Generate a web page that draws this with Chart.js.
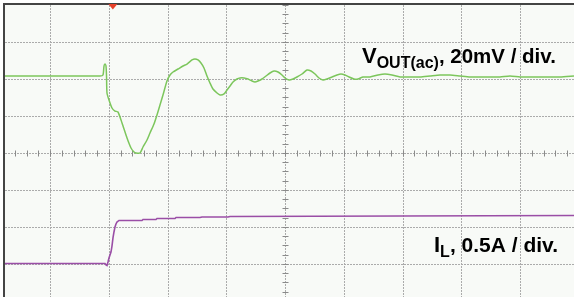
<!DOCTYPE html>
<html><head><meta charset="utf-8">
<script src="https://cdn.jsdelivr.net/npm/chart.js@4"></script>
<style>html,body{margin:0;padding:0;background:#fff;}canvas{display:block;}</style>
</head><body>
<canvas id="c" width="574" height="297"></canvas>
<script>
// Oscilloscope screen, coordinates in divisions (center of screen = 0,0)
const xMajor = [-4,-3,-2,-1,0,1,2,3,4];
const yMajor = [-3,-2,-1,0,1,2,3];
const triggerX = -2.93;

// VOUT(ac) trace, 20mV/div : time (div), level (div)
const voutT = [-4.783,-3.149,-3.098,-3.081,-3.064,-3.047,-3.038,-3.030,-2.996,-2.945,-2.894,-2.843,-2.774,-2.689,-2.621,-2.570,-2.536,-2.468,-2.417,-2.349,-2.298,-2.230,-2.179,-2.128,-2.077,-2.009,-1.957,-1.906,-1.821,-1.736,-1.668,-1.583,-1.532,-1.481,-1.430,-1.379,-1.328,-1.277,-1.226,-1.157,-1.106,-1.038,-0.987,-0.936,-0.885,-0.817,-0.766,-0.698,-0.630,-0.562,-0.511,-0.460,-0.391,-0.323,-0.255,-0.187,-0.119,-0.051,0,0.068,0.136,0.204,0.289,0.374,0.443,0.511,0.579,0.647,0.715,0.800,0.885,0.953,1.021,1.089,1.174,1.243,1.328,1.447,1.583,1.702,1.821,1.957,2.128,2.298,2.468,2.638,2.809,2.979,3.149,3.319,3.489,3.660,3.830,4.000,4.170,4.340,4.511,4.681,4.919];
const voutV = [2.081,2.081,2.108,2.351,2.405,2.351,2.081,1.622,1.432,1.216,1.135,1.108,0.811,0.405,0.135,0.027,0,0,0.162,0.351,0.541,0.784,1.027,1.297,1.568,1.946,2.108,2.189,2.270,2.351,2.405,2.514,2.541,2.514,2.432,2.297,2.081,1.892,1.730,1.622,1.568,1.595,1.703,1.811,1.919,2.000,2.027,2.027,2.000,1.946,1.919,1.946,2.000,2.081,2.162,2.216,2.189,2.108,2.027,1.973,2.000,2.054,2.135,2.243,2.216,2.135,2.027,1.973,2.000,2.054,2.108,2.135,2.108,2.054,2.000,2.000,2.054,2.054,2.108,2.135,2.108,2.054,2.054,2.054,2.081,2.108,2.108,2.081,2.054,2.054,2.054,2.054,2.081,2.054,2.054,2.054,2.054,2.054,2.081];

// IL trace, 0.5A/div : time (div), level (div)
const ilT = [-4.783,-3.064,-3.047,-3.030,-3.013,-2.996,-2.962,-2.945,-2.928,-2.911,-2.894,-2.877,-2.860,-2.826,-2.434,-2.417,-2.196,-2.179,-1.872,-1.855,-1.447,-1.413,-0.970,-0.936,1.957,4.919];
const ilV = [-2.986,-2.986,-3.027,-3.041,-2.946,-2.838,-2.676,-2.514,-2.297,-2.135,-2.000,-1.919,-1.865,-1.824,-1.824,-1.797,-1.797,-1.770,-1.770,-1.743,-1.743,-1.730,-1.730,-1.716,-1.703,-1.689];

const toXY = (t, v) => t.map((x, i) => ({x, y: v[i]}));

const scopePlugin = {
  id: 'scope',
  beforeDatasetsDraw(chart) {
    const {ctx, chartArea: a, scales: {x, y}} = chart;
    ctx.save();
    ctx.fillStyle = '#f8faf7';
    ctx.fillRect(a.left, a.top, a.right - a.left, a.bottom - a.top);
    ctx.strokeStyle = '#ababab';
    ctx.lineWidth = 1;
    ctx.setLineDash([2, 1]);
    xMajor.forEach(v => {
      const px = Math.round(x.getPixelForValue(v)) + 0.5;
      ctx.beginPath(); ctx.moveTo(px, a.top); ctx.lineTo(px, a.bottom); ctx.stroke();
    });
    yMajor.forEach(v => {
      const py = Math.round(y.getPixelForValue(v)) + 0.5;
      ctx.beginPath(); ctx.moveTo(a.left, py); ctx.lineTo(a.right, py); ctx.stroke();
    });
    ctx.setLineDash([]);
    ctx.strokeStyle = '#8a8a8a';
    const cy = Math.round(y.getPixelForValue(0)) + 0.5;
    const cx = Math.round(x.getPixelForValue(0)) + 0.5;
    for (let v = -25; v <= 25; v++) {
      const px = Math.round(x.getPixelForValue(v / 5)) + 0.5;
      if (px < a.left || px > a.right) continue;
      ctx.beginPath(); ctx.moveTo(px, cy - 3); ctx.lineTo(px, cy + 3); ctx.stroke();
    }
    for (let v = -16; v <= 16; v++) {
      const py = Math.round(y.getPixelForValue(v / 4)) + 0.5;
      if (py < a.top || py > a.bottom) continue;
      ctx.beginPath(); ctx.moveTo(cx - 3, py); ctx.lineTo(cx + 3, py); ctx.stroke();
    }
    ctx.restore();
  },
  afterDraw(chart) {
    const {ctx, chartArea: a, scales: {x}} = chart;
    ctx.save();
    // border
    ctx.strokeStyle = '#444';
    ctx.lineWidth = 2;
    ctx.beginPath(); ctx.moveTo(a.left - 1, a.bottom); ctx.lineTo(a.left - 1, a.top - 1); ctx.lineTo(a.right, a.top - 1); ctx.stroke();
    // trigger marker
    const tx = x.getPixelForValue(triggerX);
    ctx.fillStyle = '#e8412b';
    ctx.beginPath(); ctx.moveTo(tx - 4.5, a.top - 1); ctx.lineTo(tx + 4.5, a.top - 1); ctx.lineTo(tx, a.top + 4.5); ctx.closePath(); ctx.fill();
    // labels
    ctx.fillStyle = '#000';
    ctx.textBaseline = 'alphabetic';
    const run = (parts, x0, y0) => {
      let cx = x0;
      parts.forEach(([txt, size, dy]) => {
        ctx.font = 'bold ' + size + 'px "Liberation Sans", Arial, sans-serif';
        ctx.fillText(txt, cx, y0 + dy);
        cx += ctx.measureText(txt).width;
      });
    };
    run([['V', 22, 0], ['OUT(ac)', 16, 5], [', 20mV / div.', 20.5, 0]], 362, 63);
    run([['I', 22, 0], ['L', 16, 5], [', 0.5A / div.', 21, 0]], 434, 252);
    ctx.restore();
  }
};

new Chart(document.getElementById('c'), {
  type: 'scatter',
  data: {
    datasets: [
      {label: 'VOUT(ac)', data: toXY(voutT, voutV), showLine: true, borderColor: '#7cc65c', borderWidth: 1.5, pointRadius: 0, tension: 0.2},
      {label: 'IL', data: toXY(ilT, ilV), showLine: true, borderColor: '#9a4ea6', borderWidth: 1.6, pointRadius: 0, tension: 0}
    ]
  },
  options: {
    responsive: false,
    animation: false,
    devicePixelRatio: 1,
    layout: {padding: {left: 5, top: 5, right: 0, bottom: 0}},
    plugins: {legend: {display: false}, tooltip: {enabled: false}},
    scales: {
      x: {type: 'linear', display: false, min: -4.766, max: 4.919},
      y: {type: 'linear', display: false, min: -3.892, max: 4}
    }
  },
  plugins: [scopePlugin]
});
</script>
</body></html>
